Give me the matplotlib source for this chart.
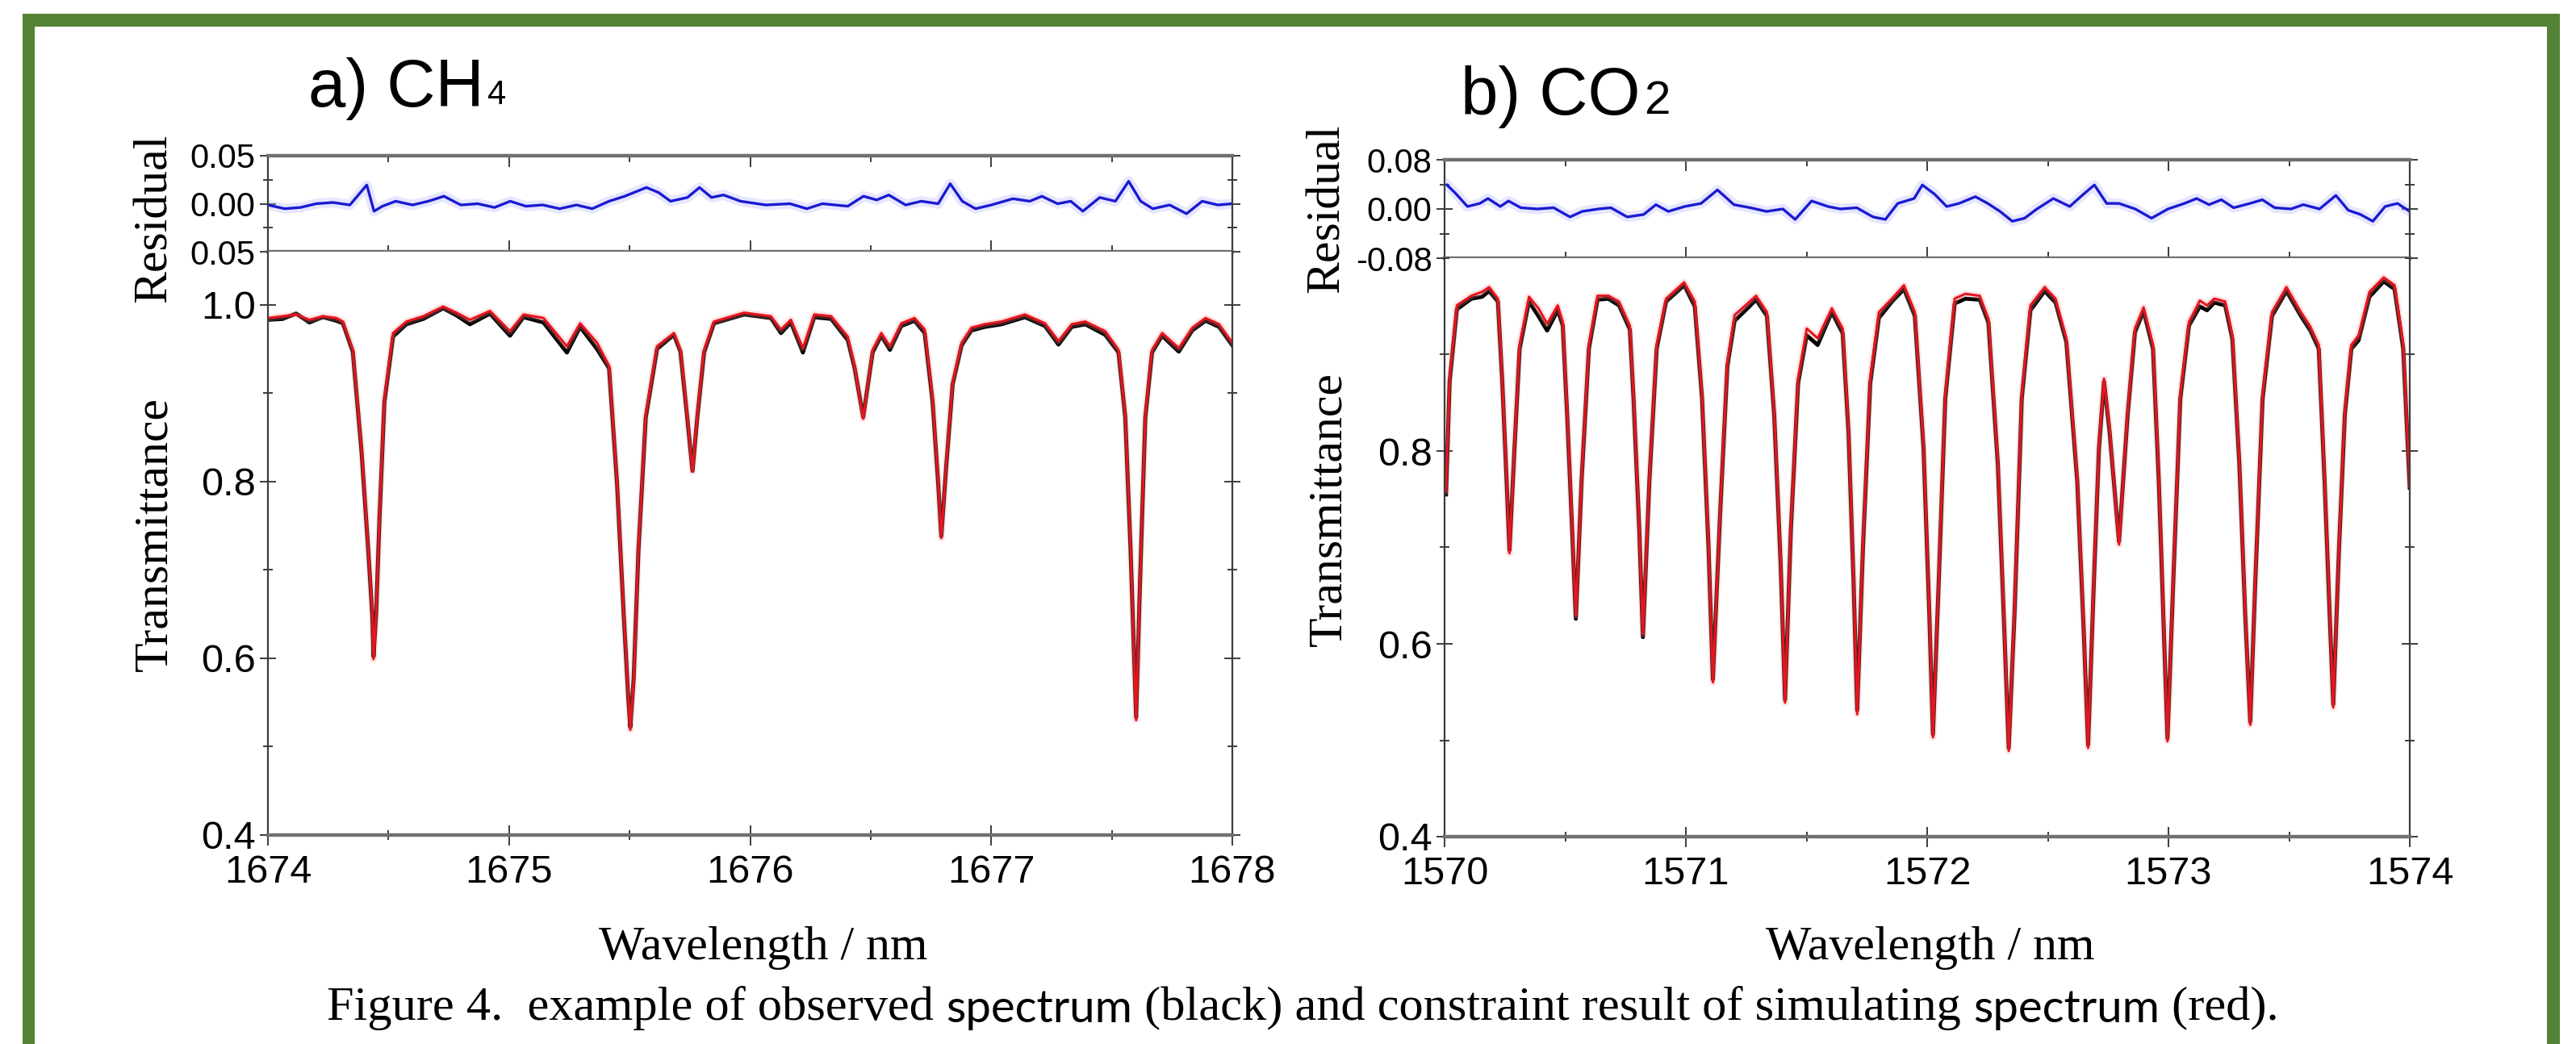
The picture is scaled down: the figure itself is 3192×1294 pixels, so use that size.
import matplotlib
matplotlib.use("Agg")
import matplotlib.pyplot as plt
from matplotlib.patches import Rectangle
from matplotlib.ticker import MultipleLocator

W, H = 3192, 1294

# ---- panel a: CH4, 1674-1678 nm ----
wl_a = [1674.000, 1674.061, 1674.117, 1674.172, 1674.228, 1674.283, 1674.311, 1674.352, 1674.388, 1674.416,
        1674.433, 1674.438, 1674.449, 1674.463, 1674.483, 1674.519, 1674.574, 1674.644, 1674.727, 1674.782,
        1674.838, 1674.921, 1675.004, 1675.060, 1675.143, 1675.240, 1675.295, 1675.365, 1675.415, 1675.448,
        1675.476, 1675.495, 1675.503, 1675.517, 1675.537, 1675.567, 1675.614, 1675.684, 1675.711, 1675.739,
        1675.761, 1675.781, 1675.809, 1675.850, 1675.975, 1676.086, 1676.128, 1676.169, 1676.219, 1676.266,
        1676.336, 1676.405, 1676.433, 1676.469, 1676.508, 1676.544, 1676.580, 1676.627, 1676.682, 1676.724,
        1676.757, 1676.780, 1676.793, 1676.813, 1676.840, 1676.877, 1676.918, 1676.974, 1677.043, 1677.140,
        1677.223, 1677.279, 1677.334, 1677.390, 1677.473, 1677.528, 1677.556, 1677.578, 1677.601, 1677.617,
        1677.639, 1677.667, 1677.709, 1677.778, 1677.834, 1677.889, 1677.945, 1678.000]
sim_a = [0.985, 0.987, 0.989, 0.983, 0.987, 0.985, 0.981, 0.949, 0.837, 0.725,
         0.650, 0.599, 0.650, 0.762, 0.893, 0.968, 0.981, 0.987, 0.998, 0.991,
         0.983, 0.993, 0.970, 0.989, 0.985, 0.953, 0.979, 0.957, 0.931, 0.800,
         0.650, 0.556, 0.519, 0.575, 0.725, 0.875, 0.953, 0.968, 0.949, 0.875,
         0.811, 0.875, 0.949, 0.981, 0.991, 0.987, 0.972, 0.983, 0.951, 0.989,
         0.987, 0.964, 0.931, 0.871, 0.949, 0.968, 0.953, 0.979, 0.985, 0.972,
         0.893, 0.800, 0.736, 0.818, 0.912, 0.957, 0.974, 0.978, 0.981, 0.989,
         0.979, 0.959, 0.978, 0.981, 0.970, 0.949, 0.875, 0.725, 0.530, 0.687,
         0.875, 0.949, 0.968, 0.951, 0.974, 0.985, 0.978, 0.957]
obs_a = [0.983, 0.984, 0.990, 0.980, 0.986, 0.982, 0.979, 0.947, 0.835, 0.723,
         0.648, 0.602, 0.652, 0.760, 0.890, 0.964, 0.978, 0.984, 0.996, 0.988,
         0.978, 0.990, 0.965, 0.986, 0.980, 0.946, 0.975, 0.950, 0.928, 0.798,
         0.648, 0.554, 0.522, 0.577, 0.723, 0.872, 0.950, 0.966, 0.947, 0.873,
         0.812, 0.873, 0.946, 0.979, 0.989, 0.985, 0.968, 0.980, 0.946, 0.986,
         0.984, 0.960, 0.929, 0.873, 0.946, 0.965, 0.949, 0.976, 0.982, 0.968,
         0.890, 0.798, 0.738, 0.816, 0.910, 0.954, 0.971, 0.975, 0.978, 0.986,
         0.976, 0.955, 0.975, 0.978, 0.966, 0.946, 0.873, 0.723, 0.533, 0.685,
         0.872, 0.946, 0.965, 0.947, 0.971, 0.982, 0.975, 0.954]
res_wl_a = [1674.00, 1674.07, 1674.135, 1674.20, 1674.27, 1674.34, 1674.41, 1674.44, 1674.475, 1674.53,
            1674.60, 1674.665, 1674.73, 1674.80, 1674.87, 1674.94, 1675.005, 1675.07, 1675.14, 1675.21,
            1675.28, 1675.345, 1675.415, 1675.48, 1675.57, 1675.62, 1675.67, 1675.74, 1675.79, 1675.84,
            1675.89, 1675.96, 1676.065, 1676.165, 1676.235, 1676.30, 1676.405, 1676.47, 1676.525, 1676.575,
            1676.645, 1676.71, 1676.78, 1676.83, 1676.88, 1676.935, 1677.00, 1677.09, 1677.16, 1677.21,
            1677.275, 1677.33, 1677.38, 1677.45, 1677.515, 1677.57, 1677.62, 1677.67, 1677.74, 1677.81,
            1677.875, 1677.94, 1678.00]
res_a = [-0.0013, -0.0052, -0.0039, 0.0, 0.0013, -0.0013, 0.0195, -0.0078, -0.0026, 0.0026,
         -0.0013, 0.0026, 0.0078, -0.0013, 0.0, -0.0039, 0.0026, -0.0026, -0.0013, -0.0052,
         -0.0013, -0.0052, 0.0026, 0.0078, 0.0169, 0.0117, 0.0026, 0.0065, 0.0169, 0.0065,
         0.0091, 0.0026, -0.0013, 0.0, -0.0052, 0.0, -0.0026, 0.0078, 0.0039, 0.0091,
         -0.0013, 0.0026, 0.0, 0.0208, 0.0026, -0.0052, -0.0013, 0.0052, 0.0026, 0.0078,
         0.0, 0.0026, -0.0078, 0.0065, 0.0026, 0.0234, 0.0026, -0.0052, -0.0013, -0.0104,
         0.0026, -0.0013, 0.0]

# ---- panel b: CO2, 1570-1574 nm ----
wl_b = [1570.006, 1570.021, 1570.051, 1570.111, 1570.155, 1570.185, 1570.221, 1570.239, 1570.257, 1570.269,
        1570.290, 1570.311, 1570.350, 1570.389, 1570.425, 1570.469, 1570.490, 1570.508, 1570.529, 1570.544,
        1570.568, 1570.598, 1570.634, 1570.679, 1570.723, 1570.768, 1570.783, 1570.807, 1570.822, 1570.849,
        1570.879, 1570.918, 1570.993, 1571.037, 1571.067, 1571.094, 1571.112, 1571.142, 1571.172, 1571.202,
        1571.247, 1571.291, 1571.336, 1571.366, 1571.393, 1571.411, 1571.435, 1571.465, 1571.501, 1571.546,
        1571.605, 1571.650, 1571.674, 1571.695, 1571.710, 1571.734, 1571.764, 1571.800, 1571.854, 1571.904,
        1571.949, 1571.985, 1572.009, 1572.024, 1572.048, 1572.075, 1572.114, 1572.158, 1572.218, 1572.254,
        1572.293, 1572.320, 1572.338, 1572.362, 1572.392, 1572.428, 1572.487, 1572.532, 1572.577, 1572.622,
        1572.649, 1572.667, 1572.691, 1572.712, 1572.733, 1572.756, 1572.795, 1572.831, 1572.861, 1572.897,
        1572.936, 1572.960, 1572.981, 1572.996, 1573.020, 1573.049, 1573.085, 1573.130, 1573.160, 1573.190,
        1573.235, 1573.265, 1573.294, 1573.318, 1573.339, 1573.360, 1573.390, 1573.429, 1573.489, 1573.549,
        1573.588, 1573.623, 1573.647, 1573.668, 1573.683, 1573.707, 1573.731, 1573.758, 1573.788, 1573.833,
        1573.892, 1573.937, 1573.973, 1574.000]
sim_b = [0.758, 0.875, 0.951, 0.961, 0.965, 0.970, 0.958, 0.875, 0.772, 0.694,
         0.806, 0.910, 0.960, 0.948, 0.932, 0.951, 0.934, 0.841, 0.720, 0.629,
         0.772, 0.910, 0.961, 0.961, 0.955, 0.930, 0.858, 0.720, 0.610, 0.772,
         0.910, 0.958, 0.975, 0.955, 0.858, 0.703, 0.560, 0.737, 0.892, 0.941,
         0.951, 0.961, 0.944, 0.841, 0.685, 0.539, 0.720, 0.875, 0.927, 0.917,
         0.948, 0.927, 0.823, 0.668, 0.527, 0.703, 0.875, 0.944, 0.958, 0.972,
         0.944, 0.806, 0.634, 0.503, 0.668, 0.858, 0.958, 0.963, 0.961, 0.937,
         0.789, 0.616, 0.489, 0.634, 0.858, 0.951, 0.970, 0.958, 0.917, 0.772,
         0.616, 0.492, 0.668, 0.806, 0.875, 0.823, 0.703, 0.841, 0.927, 0.949,
         0.910, 0.772, 0.616, 0.499, 0.668, 0.858, 0.934, 0.956, 0.951, 0.958,
         0.955, 0.920, 0.789, 0.634, 0.516, 0.668, 0.858, 0.944, 0.970, 0.944,
         0.929, 0.910, 0.772, 0.634, 0.534, 0.703, 0.841, 0.910, 0.920, 0.965,
         0.980, 0.972, 0.910, 0.765]
obs_b = [0.755, 0.872, 0.947, 0.958, 0.960, 0.966, 0.955, 0.873, 0.770, 0.697,
         0.804, 0.906, 0.955, 0.940, 0.925, 0.946, 0.930, 0.838, 0.717, 0.626,
         0.770, 0.906, 0.957, 0.958, 0.951, 0.926, 0.855, 0.718, 0.607, 0.770,
         0.906, 0.955, 0.972, 0.950, 0.855, 0.700, 0.563, 0.735, 0.888, 0.935,
         0.946, 0.957, 0.940, 0.838, 0.682, 0.542, 0.717, 0.870, 0.920, 0.910,
         0.944, 0.922, 0.820, 0.665, 0.531, 0.700, 0.870, 0.938, 0.955, 0.968,
         0.940, 0.803, 0.631, 0.506, 0.665, 0.854, 0.953, 0.958, 0.957, 0.933,
         0.786, 0.613, 0.492, 0.631, 0.854, 0.946, 0.966, 0.954, 0.913, 0.769,
         0.613, 0.495, 0.665, 0.803, 0.872, 0.820, 0.706, 0.838, 0.923, 0.945,
         0.906, 0.769, 0.613, 0.502, 0.665, 0.854, 0.930, 0.950, 0.946, 0.954,
         0.951, 0.916, 0.786, 0.631, 0.519, 0.665, 0.854, 0.940, 0.966, 0.940,
         0.925, 0.906, 0.769, 0.631, 0.537, 0.700, 0.838, 0.906, 0.915, 0.960,
         0.976, 0.968, 0.906, 0.762]
res_wl_b = [1570.01, 1570.044, 1570.095, 1570.146, 1570.18, 1570.231, 1570.265, 1570.316, 1570.384, 1570.452,
            1570.52, 1570.57, 1570.638, 1570.689, 1570.757, 1570.825, 1570.876, 1570.927, 1570.995, 1571.063,
            1571.131, 1571.199, 1571.267, 1571.334, 1571.402, 1571.453, 1571.521, 1571.589, 1571.64, 1571.708,
            1571.776, 1571.827, 1571.878, 1571.946, 1571.98, 1572.031, 1572.081, 1572.132, 1572.2, 1572.251,
            1572.302, 1572.353, 1572.404, 1572.455, 1572.523, 1572.591, 1572.642, 1572.693, 1572.744, 1572.795,
            1572.862, 1572.93, 1572.998, 1573.066, 1573.117, 1573.168, 1573.219, 1573.27, 1573.338, 1573.389,
            1573.44, 1573.508, 1573.559, 1573.626, 1573.694, 1573.745, 1573.796, 1573.847, 1573.898, 1573.949,
            1574.0]
res_b = [0.039, 0.026, 0.004, 0.009, 0.017, 0.004, 0.013, 0.002, 0.0, 0.002,
         -0.013, -0.004, 0.0, 0.002, -0.013, -0.009, 0.007, -0.004, 0.004, 0.009,
         0.031, 0.007, 0.002, -0.004, 0.0, -0.017, 0.013, 0.004, 0.0, 0.002,
         -0.013, -0.017, 0.009, 0.017, 0.039, 0.024, 0.004, 0.009, 0.020, 0.009,
         -0.004, -0.020, -0.015, 0.0, 0.017, 0.004, 0.022, 0.039, 0.009, 0.009,
         0.0, -0.015, 0.0, 0.009, 0.017, 0.007, 0.015, 0.002, 0.009, 0.015,
         0.002, 0.0, 0.007, 0.0, 0.022, -0.002, -0.009, -0.020, 0.004, 0.009,
         -0.004]

res_ticks_a = [-0.05, 0.0, 0.05]
res_labels_a = ["0.05", "0.00", "0.05"]
res_ticks_b = [-0.08, 0.0, 0.08]
res_labels_b = ["-0.08", "0.00", "0.08"]
main_ticks_a = [0.4, 0.6, 0.8, 1.0]
main_ticks_b = [0.4, 0.6, 0.8]

SANS = "Liberation Sans"
SERIF = "Liberation Serif"
GREEN = "#548235"


def px_box(left, top, right, bottom):
    return [left / W, 1 - bottom / H, (right - left) / W, (bottom - top) / H]


def style_frame(ax, size):
    for side in ("top", "bottom"):
        ax.spines[side].set_linewidth(3.2)
        ax.spines[side].set_color("#707070")
    for side in ("left", "right"):
        ax.spines[side].set_linewidth(1.6)
        ax.spines[side].set_color("#3c3c3c")
    ax.tick_params(axis="y", which="both", left=True, right=True, direction="inout",
                   labelsize=size, width=1.4, color="#3c3c3c")
    ax.tick_params(axis="y", which="major", length=14, pad=4)
    ax.tick_params(axis="y", which="minor", length=8)
    for lab in ax.get_yticklabels():
        lab.set_fontfamily(SANS)


def residual_panel(rect, wl, res, lim, ticks, labels, xlim):
    ax = fig.add_axes(rect)
    ax.plot(wl, res, color="#b8b8ff", lw=9, alpha=0.35, solid_joinstyle="round")
    ax.plot(wl, res, color="#1a1ad2", lw=2.4)
    ax.set_xlim(*xlim)
    ax.set_ylim(-lim, lim)
    ax.set_yticks(ticks)
    ax.set_yticklabels(labels)
    ax.yaxis.set_minor_locator(MultipleLocator(lim / 2))
    ax.xaxis.set_major_locator(MultipleLocator(1))
    ax.xaxis.set_minor_locator(MultipleLocator(0.5))
    ax.tick_params(axis="x", which="both", top=True, bottom=True, direction="in",
                   labelbottom=False, width=1.4, color="#3c3c3c")
    ax.tick_params(axis="x", which="major", length=10)
    ax.tick_params(axis="x", which="minor", length=6)
    style_frame(ax, 30)
    return ax


def main_panel(rect, wl, obs, sim, ylim, ticks, xlim):
    ax = fig.add_axes(rect)
    ax.plot(wl, obs, color="black", lw=3.6)
    ax.plot(wl, sim, color="#ff9090", lw=6, alpha=0.25)
    ax.plot(wl, sim, color="#e8141e", lw=2.2)
    ax.set_xlim(*xlim)
    ax.set_ylim(*ylim)
    ax.set_yticks(ticks)
    ax.yaxis.set_minor_locator(MultipleLocator(0.1))
    ax.xaxis.set_major_locator(MultipleLocator(1))
    ax.xaxis.set_minor_locator(MultipleLocator(0.5))
    ax.tick_params(axis="x", which="both", top=False, bottom=True, direction="inout",
                   labelsize=35, width=1.4, color="#3c3c3c", pad=8)
    ax.tick_params(axis="x", which="major", length=18)
    ax.tick_params(axis="x", which="minor", length=9)
    for lab in ax.get_xticklabels():
        lab.set_fontfamily(SANS)
    style_frame(ax, 35)
    ax.spines["top"].set_visible(False)
    return ax


fig = plt.figure(figsize=(W / 100, H / 100), dpi=100)
fig.patch.set_facecolor("white")

bg = fig.add_axes([0, 0, 1, 1], zorder=-5)
bg.set_xlim(0, W)
bg.set_ylim(H, 0)
bg.axis("off")
bg.add_patch(Rectangle((28, 17), 3172 - 28, 16, color=GREEN, lw=0))
bg.add_patch(Rectangle((28, 17), 15, H, color=GREEN, lw=0))
bg.add_patch(Rectangle((3156, 17), 16, H, color=GREEN, lw=0))

residual_panel(px_box(332, 193, 1527, 312), res_wl_a, res_a, 0.05,
               res_ticks_a, res_labels_a, (1674, 1678))
main_panel(px_box(332, 312, 1527, 1035), wl_a, obs_a, sim_a, (0.4, 1.06),
           main_ticks_a, (1674, 1678))
residual_panel(px_box(1790, 198, 2986, 320), res_wl_b, res_b, 0.08,
               res_ticks_b, res_labels_b, (1570, 1574))
main_panel(px_box(1790, 320, 2986, 1037), wl_b, obs_b, sim_b, (0.4, 1.0),
           main_ticks_b, (1570, 1574))

# panel titles with subscripts
ta = bg.text(382, 132, "a) CH", fontsize=60, family=SANS, va="baseline", ha="left")
bg.annotate("4", xy=(1, 0), xycoords=ta, xytext=(3, 8), textcoords="offset points",
            fontsize=30, family=SANS, va="bottom", ha="left")
tb = bg.text(1810, 142, "b) CO", fontsize=60, family=SANS, va="baseline", ha="left")
bg.annotate("2", xy=(1, 0), xycoords=tb, xytext=(3, 4), textcoords="offset points",
            fontsize=42, family=SANS, va="bottom", ha="left")

# axis labels
lab_kw = dict(fontsize=43, family=SERIF, ha="center", va="center")
bg.text(192, 270, "Residual", rotation=90, **lab_kw)
bg.text(192, 662, "Transmittance", rotation=90, **lab_kw)
bg.text(1645, 258, "Residual", rotation=90, **lab_kw)
bg.text(1647, 631, "Transmittance", rotation=90, **lab_kw)
bg.text(946, 1175, "Wavelength / nm", **lab_kw)
bg.text(2392, 1175, "Wavelength / nm", **lab_kw)

# caption: serif text with the word "spectrum" set in a sans face
cap_parts = [("Figure 4.  example of observed ", SERIF, 43.5),
             ("spectrum", "Lato", 40.5),
             (" (black) and constraint result of simulating ", SERIF, 43.5),
             ("spectrum", "Lato", 40.5),
             (" (red).", SERIF, 43.5)]
prev = bg.text(405, 1264, cap_parts[0][0], family=cap_parts[0][1],
               fontsize=cap_parts[0][2], va="baseline", ha="left")
for text, fam, size in cap_parts[1:]:
    prev = bg.annotate(text, xy=(1, 0), xycoords=prev, family=fam, fontsize=size,
                       va="bottom", ha="left")

fig.savefig("out.png", dpi=100, facecolor="white")
